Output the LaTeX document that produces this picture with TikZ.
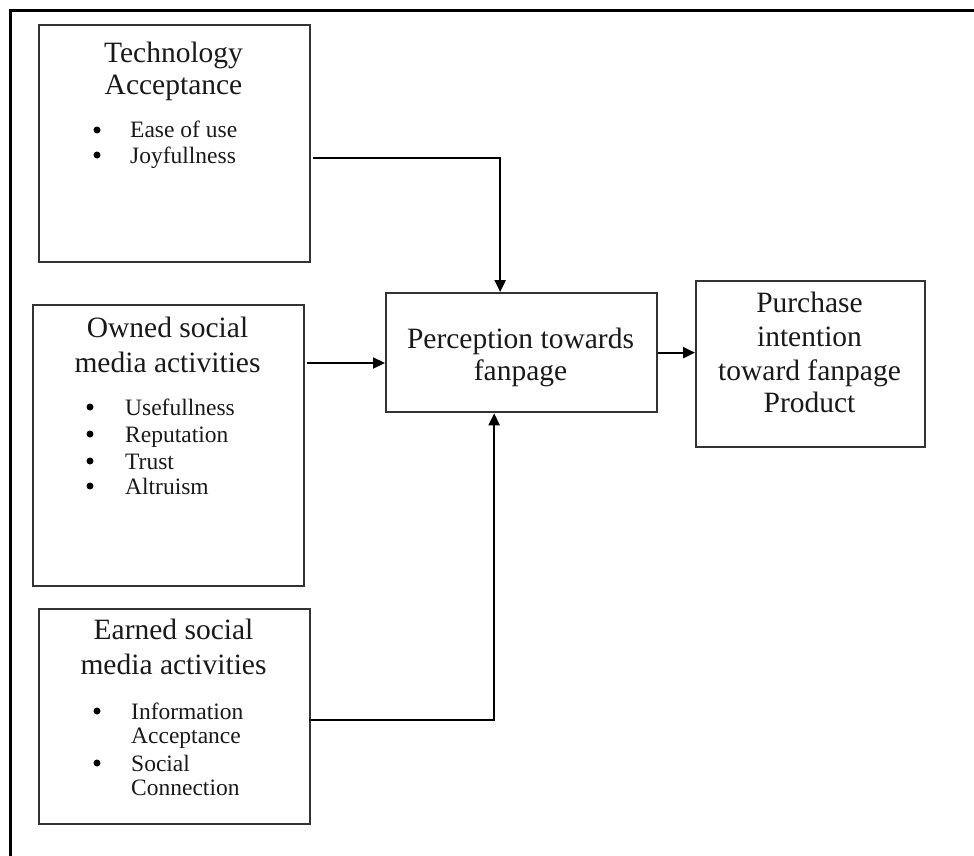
\documentclass[tikz,border=0pt]{standalone}
\usepackage{fontspec}
\setmainfont{Liberation Serif}
\usetikzlibrary{arrows.meta}
\begin{document}
\begin{tikzpicture}[x=1pt,y=-1pt,
  box/.style={draw=black!80, line width=2.3pt, inner sep=0pt, anchor=north west},
  ttl/.style={anchor=base, inner sep=0pt, text=black!90, font=\fontsize{29.5}{32}\selectfont},
  itm/.style={anchor=base west, inner sep=0pt, text=black!90, font=\fontsize{23.5}{24}\selectfont, align=left},
  bul/.style={circle, fill=black, inner sep=0pt, minimum size=7pt},
  arr/.style={line width=2.2pt, -{Triangle[length=12pt,width=11pt]}},
  frameline/.style={line width=3pt}]
\useasboundingbox (0,0) rectangle (974,856);
\draw[frameline] (974,11) -- (10,11) -- (10,856);

% boxes
\node[box, minimum width=271pt, minimum height=237pt] (tech) at (38,24) {};
\node[box, minimum width=271pt, minimum height=281pt] (owned) at (32,304) {};
\node[box, minimum width=271pt, minimum height=215pt] (earned) at (38,608) {};
\node[box, minimum width=271pt, minimum height=119pt] (perc) at (385,292) {};
\node[box, minimum width=229pt, minimum height=166pt] (purch) at (695,280) {};

% Technology Acceptance
\node[ttl] (t1a) at (173.5,63) {Technology};
\node[ttl] (t1b) at (173.5,95) {Acceptance};
\node[bul] (tb1) at (97,130) {};
\node[itm] (ti1) at (130,138) {Ease of use};
\node[bul] (tb2) at (97,155) {};
\node[itm] (ti2) at (130,163) {Joyfullness};

% Owned
\node[ttl] (o1a) at (167.5,337) {Owned social};
\node[ttl] (o1b) at (167.5,372) {media activities};
\node[bul] (ob1) at (90,407) {};
\node[itm] (oi1) at (125,415) {Usefullness};
\node[bul] (ob2) at (90,434) {};
\node[itm] (oi2) at (125,442) {Reputation};
\node[bul] (ob3) at (90,461) {};
\node[itm] (oi3) at (125,469) {Trust};
\node[bul] (ob4) at (90,486) {};
\node[itm] (oi4) at (125,494) {Altruism};

% Earned
\node[ttl] (e1a) at (173.5,639) {Earned social};
\node[ttl] (e1b) at (173.5,674) {media activities};
\node[bul] (eb1) at (97,711) {};
\node[itm] (ei1) at (131,719) {Information};
\node[itm] (ei1b) at (131,743) {Acceptance};
\node[bul] (eb2) at (97,763) {};
\node[itm] (ei2) at (131,771) {Social};
\node[itm] (ei2b) at (131,795) {Connection};

% Perception
\node[ttl] (p1a) at (520.5,348) {Perception towards};
\node[ttl] (p1b) at (520.5,380) {fanpage};

% Purchase
\node[ttl] (q1a) at (809.5,312) {Purchase};
\node[ttl] (q1b) at (809.5,346) {intention};
\node[ttl] (q1c) at (809.5,380) {toward fanpage};
\node[ttl] (q1d) at (809.5,412) {Product};

% connectors
\coordinate (tstart) at (313,158);
\coordinate (ostart) at (307,363);
\coordinate (estart) at (309,720);
\draw[arr] (tstart) -| ([xshift=-21.5pt]perc.north);
\draw[arr] (ostart) -- (ostart -| perc.west);
\draw[arr] (estart) -| ([xshift=-27.5pt]perc.south);
\draw[arr] (perc.east) -- (perc.east -| purch.west);
\end{tikzpicture}
\end{document}
